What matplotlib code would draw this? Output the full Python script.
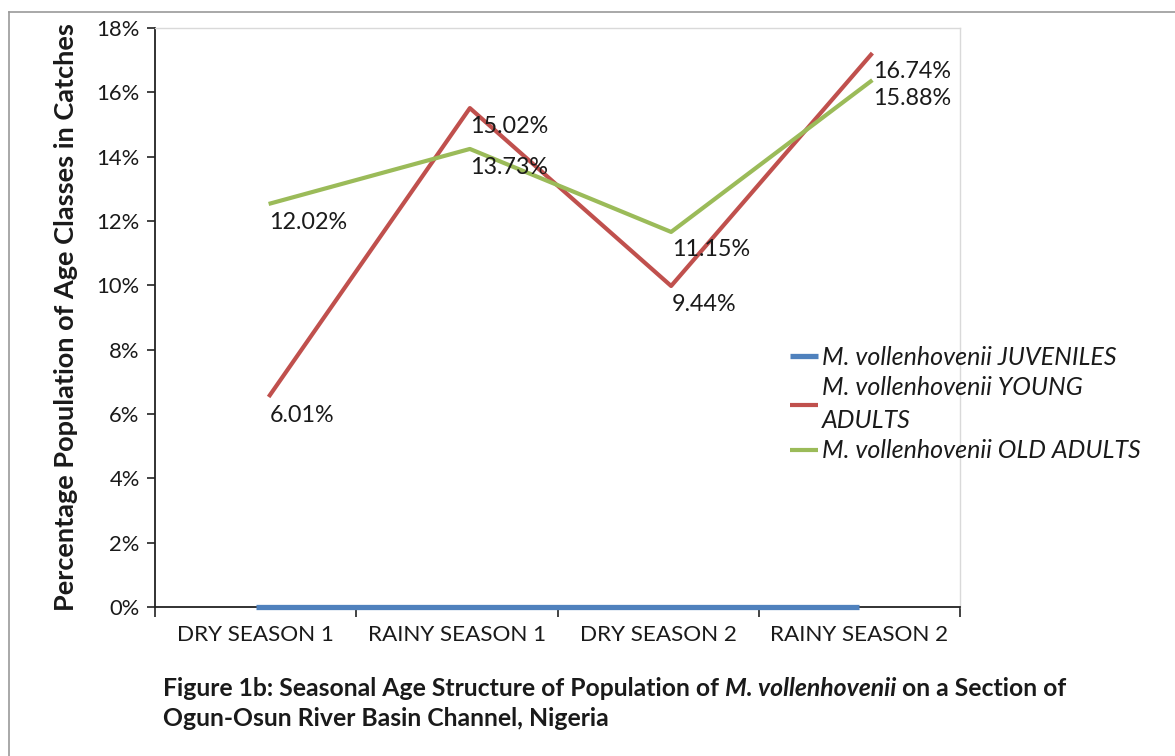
import matplotlib
matplotlib.use("Agg")
import matplotlib.pyplot as plt
import matplotlib.transforms as mtransforms
from matplotlib.lines import Line2D
from matplotlib.ticker import FixedLocator, FuncFormatter

# ---------------- data ----------------
categories = ["DRY SEASON 1", "RAINY SEASON 1", "DRY SEASON 2", "RAINY SEASON 2"]
juveniles = [0.0, 0.0, 0.0, 0.0]
young_adults = [6.53, 15.51, 9.98, 17.22]
old_adults = [12.53, 14.24, 11.66, 16.38]
young_labels = ["6.01%", "15.02%", "9.44%", "16.74%"]
old_labels = ["12.02%", "13.73%", "11.15%", "15.88%"]
series_names = ["M. vollenhovenii JUVENILES",
                "M. vollenhovenii YOUNG\nADULTS",
                "M. vollenhovenii OLD ADULTS"]
y_ticks = [0, 2, 4, 6, 8, 10, 12, 14, 16, 18]
y_label = "Percentage Population of Age Classes in Catches"

FONT = "Lato"
TXT = "#1a1a1a"
C_BLUE, C_RED, C_GREEN = "#4F81BD", "#C0504D", "#9BBB59"

plt.rcParams["font.family"] = [FONT, "DejaVu Sans"]

fig = plt.figure(figsize=(11.75, 7.56), dpi=100)
W, H = 1175, 756
ax = fig.add_axes([155 / W, 1 - 607 / H, (960 - 155) / W, (607 - 28) / H])

x = list(range(len(categories)))
shift = mtransforms.offset_copy(ax.transData, fig=fig, x=13, y=0, units="dots")

l1, = ax.plot(x, juveniles, color=C_BLUE, lw=3.8, solid_capstyle="butt", zorder=4, clip_on=False)
l2, = ax.plot(x, young_adults, color=C_RED, lw=3.0, solid_capstyle="butt", transform=shift, zorder=3)
l3, = ax.plot(x, old_adults, color=C_GREEN, lw=3.0, solid_capstyle="butt", transform=shift, zorder=3)

LBL = 16.8
for xi, yi, lab in zip(x, young_adults, young_labels):
    ax.annotate(lab, xy=(xi, yi), xycoords=shift, xytext=(0.5, -13), textcoords="offset points",
                ha="left", va="center", fontsize=LBL, color=TXT, zorder=5)
for xi, yi, lab in zip(x, old_adults, old_labels):
    ax.annotate(lab, xy=(xi, yi), xycoords=shift, xytext=(0.5, -13), textcoords="offset points",
                ha="left", va="center", fontsize=LBL, color=TXT, zorder=5)

ax.set_xlim(-0.5, len(categories) - 0.5)
ax.set_ylim(0, 18)

ax.yaxis.set_major_locator(FixedLocator(y_ticks))
ax.yaxis.set_major_formatter(FuncFormatter(lambda v, p: f"{v:.0f}%"))
ax.tick_params(axis="y", direction="out", length=6, width=1.2, color="#222222",
               labelsize=15.8, labelcolor=TXT, pad=5)

ax.set_xticks([i - 0.5 for i in range(len(categories) + 1)])
ax.set_xticklabels([])
ax.set_xticks(x, minor=True)
ax.set_xticklabels(categories, minor=True)
ax.tick_params(axis="x", which="major", direction="out", length=7, width=1.2, color="#222222")
ax.tick_params(axis="x", which="minor", length=0, labelsize=16.2, labelcolor=TXT, pad=13)

for s in ["left", "bottom"]:
    ax.spines[s].set_color("#222222")
    ax.spines[s].set_linewidth(1.3)
for s in ["top", "right"]:
    ax.spines[s].set_color("#d9d9d9")
    ax.spines[s].set_linewidth(1.0)

ax.set_ylabel(y_label, fontsize=19.5, fontweight="bold", color=TXT)
ax.yaxis.set_label_coords(-89 / (960 - 155), 0.5)
ax.yaxis.label.set_va("center")

leg = fig.legend([l1, l2, l3], series_names, loc="center left",
                 bbox_to_anchor=(790 / W, 1 - 404 / H), frameon=False,
                 prop={"family": FONT, "style": "italic", "size": 18},
                 handlelength=1.1, handletextpad=0.18, labelspacing=0.3,
                 borderaxespad=0, borderpad=0)
for t in leg.get_texts():
    t.set_color(TXT)
    t.set_linespacing(1.5)

# caption
cap_kw = dict(fontsize=17.8, fontweight="bold", color=TXT)
t1 = fig.text(163 / W, 1 - 689 / H, "Figure 1b: Seasonal Age Structure of Population of ", ha="left", va="center", **cap_kw)
t2 = fig.text(0, 0, "M. vollenhovenii", ha="left", va="center", style="italic", **cap_kw)
t3 = fig.text(0, 0, " on a Section of", ha="left", va="center", **cap_kw)
t4 = fig.text(163 / W, 1 - 719 / H, "Ogun-Osun River Basin Channel, Nigeria", ha="left", va="center", **cap_kw)

fig.canvas.draw()
r = fig.canvas.get_renderer()
bb1 = t1.get_window_extent(r)
t2.set_position((bb1.x1 / W, 1 - 689 / H))
fig.canvas.draw()
bb2 = t2.get_window_extent(r)
t3.set_position((bb2.x1 / W, 1 - 689 / H))

# outer frame
fig.add_artist(Line2D([9 / W, 9 / W], [0, 1 - 12 / H], transform=fig.transFigure, color="#9a9a9a", lw=1.2))
fig.add_artist(Line2D([9 / W, 1], [1 - 12 / H, 1 - 12 / H], transform=fig.transFigure, color="#9a9a9a", lw=1.2))

fig.savefig("out.png", dpi=100, facecolor="white")
